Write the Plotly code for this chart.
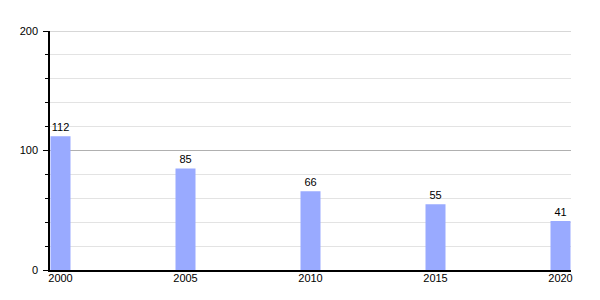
import plotly.graph_objects as go

years = [2000, 2005, 2010, 2015, 2020]
values = [112, 85, 66, 55, 41]
y_ticks = [0, 100, 200]

fig = go.Figure(go.Bar(
    x=years, y=values, width=0.8,
    marker=dict(color="#99aaff", line=dict(width=0)),
    text=[str(v) for v in values], textposition="outside",
    textfont=dict(family="Liberation Sans, Arial, sans-serif", size=11, color="#000"),
    cliponaxis=False,
))

fig.update_layout(
    width=600, height=300,
    margin=dict(l=50, r=29, t=31, b=30),
    plot_bgcolor="white", paper_bgcolor="white",
    showlegend=False,
    font=dict(family="Liberation Sans, Arial, sans-serif", size=11, color="#000"),
    xaxis=dict(
        range=[1999.58, 2020.42], tickvals=years, ticktext=[str(y) for y in years],
        showgrid=False, zeroline=False, showline=True, linecolor="#000", linewidth=1.5,
        ticks="", ticklabelstandoff=-3, tickfont=dict(color="#000"),
    ),
    yaxis=dict(
        range=[0, 200], tickvals=y_ticks, showgrid=True, gridcolor="#b0b0b0", gridwidth=1,
        zeroline=False, showline=True, linecolor="#000", linewidth=1.5,
        ticks="outside", ticklen=5, tickcolor="#000", tickwidth=1,
        ticklabelstandoff=3, tickfont=dict(color="#000"),
        minor=dict(dtick=20, showgrid=True, gridcolor="#e3e3e3", gridwidth=1,
                   ticks="outside", ticklen=3, tickcolor="#000"),
    ),
)
fig.add_shape(type="line", xref="paper", yref="y", x0=0, x1=1,
              y0=y_ticks[-1], y1=y_ticks[-1], line=dict(color="#b0b0b0", width=1),
              layer="above")

fig.write_html("out.html")
